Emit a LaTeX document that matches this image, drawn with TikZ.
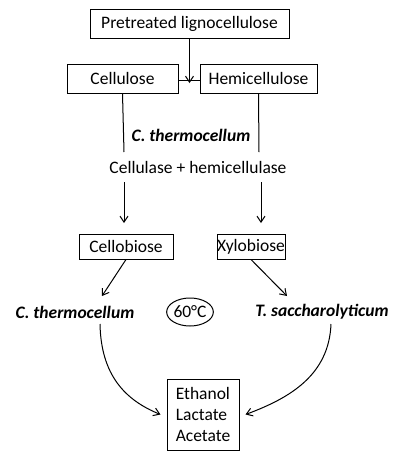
\documentclass[tikz,border=0pt]{standalone}
\usepackage{fontspec}
\setmainfont{Carlito}
\usetikzlibrary{arrows.meta,shapes.geometric}
\tikzset{
  box/.style={draw,inner sep=0pt,minimum height=29pt},
  smallbox/.style={draw,inner sep=0pt,minimum height=25pt},
  microbe/.style={font=\fontsize{17.5}{21}\bfseries\itshape},
}
\begin{document}
\begin{tikzpicture}[x=1pt,y=-1pt,>={Straight Barb[length=6pt,width=8pt]},line width=1pt,font=\fontsize{17.5}{21}\selectfont]
\useasboundingbox (0,0) rectangle (403,459);
% feedstock and its fractions
\node[box,minimum width=199pt](pre) at (189.5,23.5){Pretreated lignocellulose};
\node[box,minimum width=111pt](cel) at (122.5,78.5){Cellulose};
\node[box,minimum width=117pt](hemi) at (258.5,78.5){Hemicellulose};
\coordinate (join) at (189.5,80);
\draw (cel.east |- join)--(hemi.west |- join);
\draw[->](pre.south)--([yshift=-3pt]join);

% enzymes
\node[microbe](ct1) at (191,135){C. thermocellum};
\node(enz) at (198,167){Cellulase + hemicellulase};
\draw(cel.south)--(124,152);
\draw(hemi.south)--(259,152);

% sugars
\node[smallbox,minimum width=94pt](cb) at (126,246.5){Cellobiose};
\node[smallbox,minimum width=68pt](xb) at (251,246.5){Xylobiose};
\draw[->,shorten >=11pt](124,182)--(124,234);
\draw[->,shorten >=11pt](261,182)--(261,234);

% fermentation
\node[microbe](ct2) at (75,312){C. thermocellum};
\node[draw,ellipse,inner sep=0pt,minimum width=38pt,minimum height=28pt](temp) at (190,312){60\textdegree C};
\node[microbe](ts) at (322,312){T. saccharolyticum};
\coordinate (ctin) at (102,296);
\coordinate (tsin) at (287,296);
\draw[->](cb.south)--(ctin);
\draw[->](xb.south)--(tsin);

% products
\node[draw,inner sep=0pt,minimum width=72pt,minimum height=71pt,align=left](prod) at (203,414.5){Ethanol\\Lactate\\Acetate};
\coordinate (ctout) at (100,324);
\coordinate (tsout) at (331,324);
\draw[->](ctout) .. controls (101,375) and (125,400) .. ([xshift=-6pt]prod.west);
\draw[->](tsout) .. controls (329,375) and (290,398) .. ([xshift=6pt]prod.east);
\end{tikzpicture}
\end{document}
